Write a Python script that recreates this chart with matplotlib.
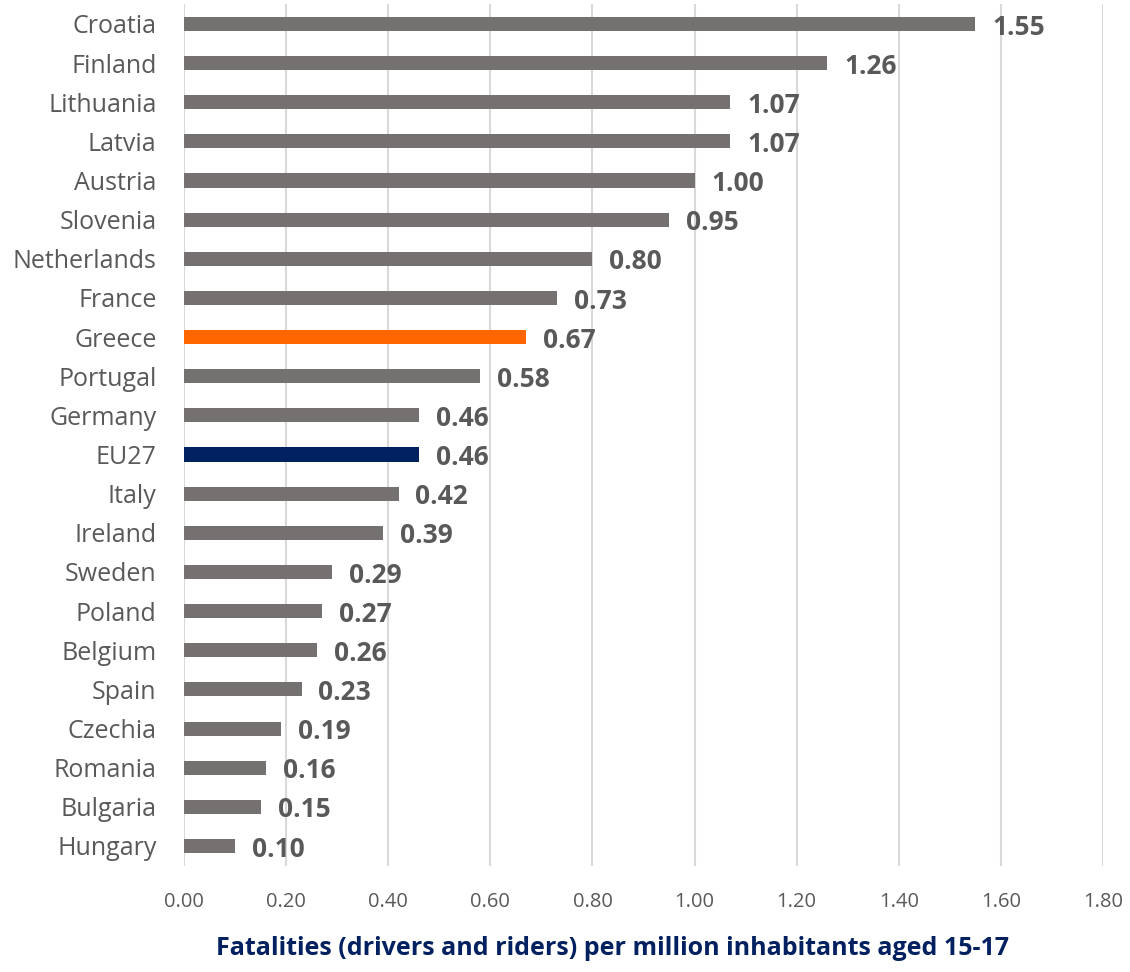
import matplotlib.pyplot as plt

# data, top to bottom as in the chart
countries = [ "Croatia", "Finland", "Lithuania", "Latvia", "Austria", "Slovenia",
              "Netherlands", "France", "Greece", "Portugal", "Germany", "EU27",
              "Italy", "Ireland", "Sweden", "Poland", "Belgium", "Spain",
              "Czechia", "Romania", "Bulgaria", "Hungary" ]
values = [ 1.55, 1.26, 1.07, 1.07, 1.00, 0.95, 0.80, 0.73, 0.67, 0.58, 0.46, 0.46,
           0.42, 0.39, 0.29, 0.27, 0.26, 0.23, 0.19, 0.16, 0.15, 0.10 ]
xticks = [ 0.0, 0.2, 0.4, 0.6, 0.8, 1.0, 1.2, 1.4, 1.6, 1.8 ]

grey = "#767171"
colors = [ grey ] * len( countries )
colors[ countries.index( "Greece" ) ] = "#FF6600"
colors[ countries.index( "EU27" ) ] = "#002060"

plt.rcParams[ "font.family" ] = [ "Open Sans", "DejaVu Sans" ]

fig = plt.figure( figsize = ( 11.3, 9.72 ), dpi = 100 )
ax = fig.add_axes( [ 0.163, 0.1095, 0.813, 0.886 ] )

ypos = list( range( len( countries ) ) )
ax.barh( ypos, values, height = 0.36, color = colors, zorder = 3 )
for y, v in zip( ypos, values ):
    ax.text( v + 0.033, y + 0.08, "%.2f" % v, va = "center", ha = "left",
             fontsize = 19, fontweight = "bold", color = "#595959", zorder = 4 )

ax.set_ylim( len( countries ) - 0.5, -0.5 )
ax.set_xlim( 0, 1.8 )
ax.set_yticks( ypos )
ax.set_yticklabels( countries, fontsize = 18, color = "#595959" )
ax.set_xticks( xticks )
ax.set_xticklabels( [ "%.2f" % t for t in xticks ], fontsize = 14.5, color = "#595959" )
ax.tick_params( axis = "both", length = 0 )
ax.tick_params( axis = "x", pad = 19 )
ax.tick_params( axis = "y", pad = 20 )
ax.grid( visible = True, axis = "x", color = "#D9D9D9", linewidth = 1.5, zorder = 0 )
for s in ax.spines.values():
    s.set_visible( False )

fig.text( 0.542, 0.024, "Fatalities (drivers and riders) per million inhabitants aged 15-17",
          ha = "center", va = "center", fontsize = 18, fontweight = "bold", color = "#002060" )

plt.savefig( "out.png", dpi = 100 )
